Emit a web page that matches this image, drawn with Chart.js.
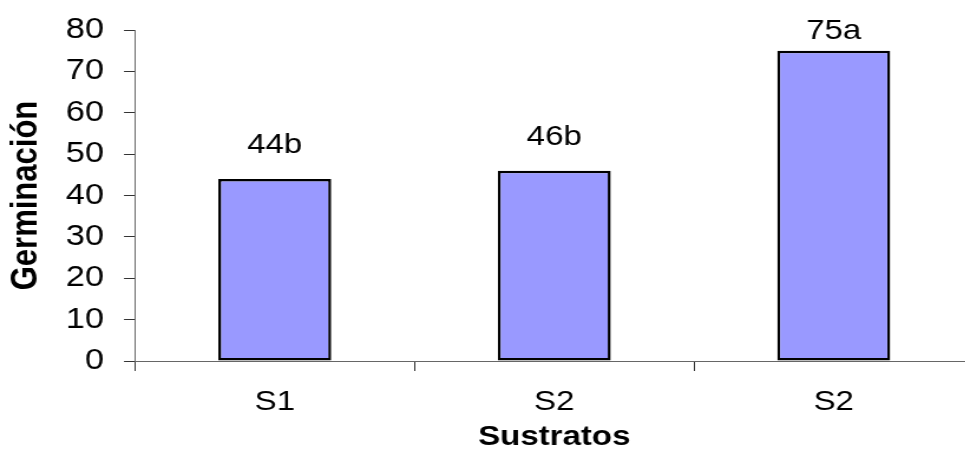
<!DOCTYPE html>
<html>
<head>
<meta charset="utf-8">
<script src="https://cdn.jsdelivr.net/npm/chart.js@4/dist/chart.umd.min.js"></script>
<style>
  html, body { margin: 0; padding: 0; background: #fff; overflow: hidden; width: 965px; height: 454px; }
  #wrap { transform: scaleX(1.18); transform-origin: 0 0; width: 830px; height: 454px; }
  canvas { display: block; }
</style>
</head>
<body>
<div id="wrap"><canvas id="chart" width="830" height="454"></canvas></div>
<script>
// Germination by substrate, with mean-separation letters
const categories = ['S1', 'S2', 'S2'];
const germination = [44, 46, 75];
const groupLetters = ['b', 'b', 'a'];
const yTicks = { min: 0, max: 80, step: 10 };

const FONT = "'Liberation Sans', Arial, sans-serif";

// Writes "value + letter" above each bar, kept inside the plot at the top
const barLabels = {
  id: 'barLabels',
  afterDatasetsDraw(chart) {
    const { ctx, chartArea } = chart;
    const meta = chart.getDatasetMeta(0);
    ctx.save();
    ctx.font = '28px ' + FONT;
    ctx.fillStyle = '#000';
    ctx.textAlign = 'center';
    ctx.textBaseline = 'alphabetic';
    meta.data.forEach((bar, i) => {
      const y = Math.max(bar.y - 26, chartArea.top + 9);
      ctx.fillText(germination[i] + groupLetters[i], bar.x, y);
    });
    ctx.restore();
  }
};

new Chart(document.getElementById('chart'), {
  type: 'bar',
  data: {
    labels: categories,
    datasets: [{
      data: germination,
      backgroundColor: '#9999FF',
      borderColor: '#000000',
      borderWidth: 2.5,
      borderSkipped: false,
      barPercentage: 0.404,
      categoryPercentage: 1.0
    }]
  },
  options: {
    responsive: false,
    animation: false,
    devicePixelRatio: 1,
    layout: { padding: { top: 30, right: 5, bottom: 0, left: 0 } },
    plugins: {
      legend: { display: false },
      tooltip: { enabled: false }
    },
    scales: {
      x: {
        offset: true,
        afterFit(scale) { scale.height = 93; },
        border: { display: true, color: '#666', width: 1 },
        grid: { display: true, drawOnChartArea: false, drawTicks: true, tickLength: 10, color: '#333', offset: true },
        ticks: { color: '#000', font: { family: FONT, size: 28 }, padding: 14, maxRotation: 0 },
        title: { display: true, text: 'Sustratos', color: '#000', font: { family: FONT, size: 28, weight: 'bold' }, padding: { top: 0, bottom: 0 } }
      },
      y: {
        min: yTicks.min,
        max: yTicks.max,
        afterFit(scale) {
          scale.width = 114.4;
          scale.paddingTop = 0;
          scale.paddingBottom = 0;
        },
        border: { display: true, color: '#666', width: 1 },
        grid: { display: true, drawOnChartArea: false, drawTicks: true, tickLength: 9.3, color: '#333' },
        ticks: { stepSize: yTicks.step, color: '#000', font: { family: FONT, size: 29 }, padding: 17 },
        title: { display: true, text: 'Germinación', color: '#000', font: { family: FONT, size: 31, weight: 'bold' }, padding: { top: 4, bottom: 0 } }
      }
    }
  },
  plugins: [barLabels]
});
</script>
</body>
</html>
